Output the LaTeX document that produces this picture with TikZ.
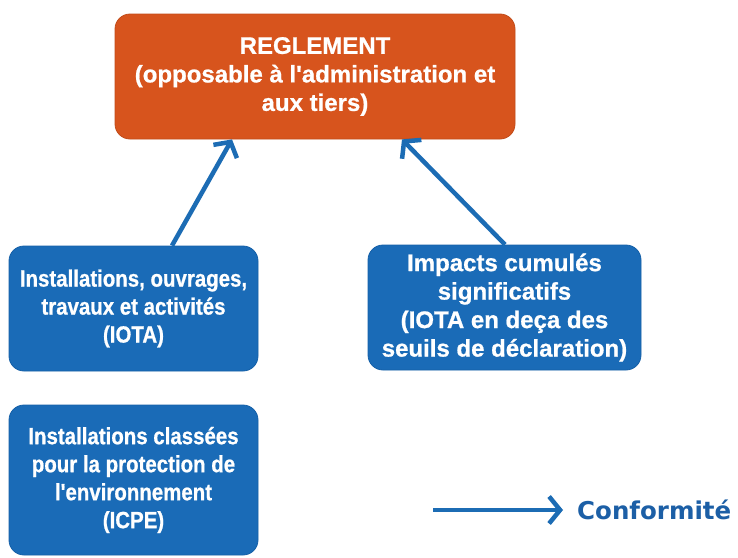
\documentclass[tikz,border=0pt]{standalone}
\usepackage{fontspec}
\setmainfont{Liberation Sans}
\newfontfamily\mainfam{Liberation Sans}[BoldFeatures={FakeBold=0.8}]
\newfontfamily\narrowfont{Liberation Sans}[FakeStretch=0.87, BoldFeatures={FakeBold=0.8}]
\newfontfamily\legfont{DejaVu Sans}
\usetikzlibrary{arrows.meta,calc}
\definecolor{regorange}{HTML}{D7541D}
\definecolor{boxblue}{HTML}{1A6BB7}
\definecolor{boxedge}{HTML}{1560A8}
\definecolor{arrblue}{HTML}{1C6CB4}
\definecolor{legtext}{HTML}{1C5FA6}
\tikzset{
  regbox/.style={fill=regorange, draw=regorange!90!black, line width=0.8pt, rounded corners=15pt,
    text=white, align=center, inner sep=0pt,
    font=\mainfam\fontsize{24}{28.5}\selectfont\bfseries},
  bluebox/.style={fill=boxblue, draw=boxedge, line width=0.8pt, rounded corners=15pt,
    text=white, align=center, inner sep=0pt},
  narrowtxt/.style={font=\narrowfont\fontsize{23.5}{28}\selectfont\bfseries},
  widetxt/.style={font=\mainfam\fontsize{24}{28.5}\selectfont\bfseries},
  conn/.style={draw=arrblue, line width=4.5pt, -{Straight Barb[length=11pt,width=27pt]}}
}
\begin{document}
\begin{tikzpicture}[x=1pt,y=-1pt]
\useasboundingbox[fill=white] (0,0) rectangle (738,557);
\node[regbox, minimum width=400pt, minimum height=125pt] (reg) at (315,76.5)
  {REGLEMENT\\(opposable à l'administration et\\aux tiers)};
\node[bluebox, narrowtxt, minimum width=249pt, minimum height=125pt] (iota) at (133.5,308.5)
  {Installations, ouvrages,\\travaux et activités\\(IOTA)};
\node[bluebox, widetxt, minimum width=273pt, minimum height=125pt] (imp) at (504.5,307.5)
  {Impacts cumulés\\significatifs\\(IOTA en deça des\\seuils de déclaration)};
\node[bluebox, narrowtxt, minimum width=249pt, minimum height=150pt] (icpe) at (133.5,480)
  {Installations classées\\pour la protection de\\l'environnement\\(ICPE)};
\draw[conn] (iota.north -| 172,0) -- (reg.south -| 232,0);
\draw[conn] (imp.north -| 505,0) -- (reg.south -| 402,0);
\node[anchor=west, inner sep=0pt, text=legtext, font=\legfont\fontsize{24.5}{28}\selectfont\bfseries] (conf) at (577,510) {Conformité};
\coordinate (legstart) at (433,510);
\draw[conn] (legstart) -- ($(conf.west)+(-14,0)$);
\end{tikzpicture}
\end{document}
